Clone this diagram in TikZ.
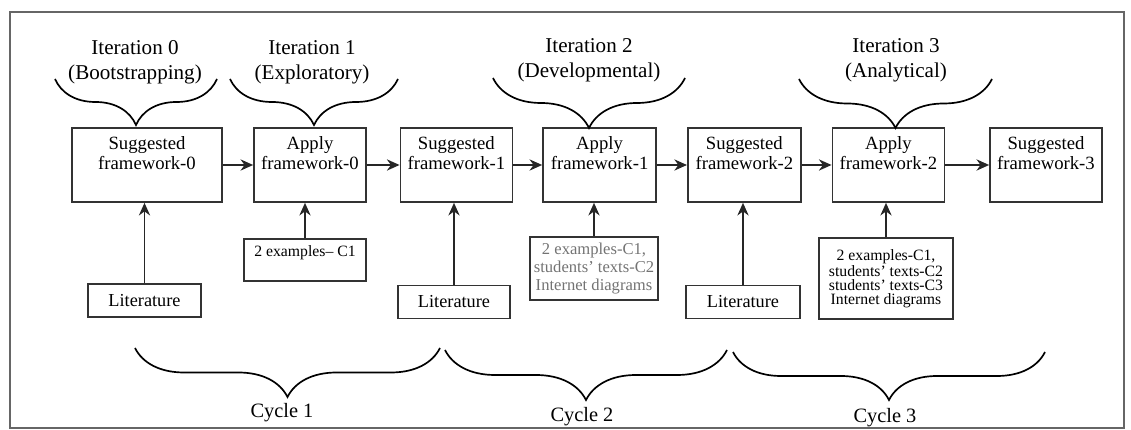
\documentclass[tikz,border=0pt]{standalone}
\usepackage{fontspec}
\setmainfont{Liberation Serif}
\usetikzlibrary{positioning, arrows.meta, decorations.pathreplacing}

\tikzset{
	stage/.style={draw=black!80, line width=1.2pt, rectangle, align=center, text width=2.6cm, 
	text height=0.45cm, text depth=1.2cm, inner sep=0.1cm, font=\fontsize{13.3}{14.2}\selectfont},
	lit/.style={draw=black!80, line width=1.1pt, rectangle, minimum width=2.83cm, 
	minimum height=0.83cm, inner sep=0.05cm, font=\fontsize{13}{14}\selectfont},
	data/.style={draw=black!80, line width=1.1pt, rectangle, align=center, inner sep=0.05cm, 
	font=\fontsize{11.2}{10}\selectfont},
	flow/.style={-{Stealth[length=9pt, width=8pt]}, line width=1.2pt, black!85},
	curly/.style={decorate, decoration={brace, mirror, amplitude=#1}, line width=1.2pt},
	heading/.style={align=center, font=\fontsize{15}{17.7}\selectfont},
	cycle/.style={font=\fontsize{14.5}{16}\selectfont}
}

\begin{document}
\begin{tikzpicture}
		\useasboundingbox (0,0) rectangle (28.275,-10.75);
		\draw[black!60, line width=1.2pt] (0.25,-0.3) rectangle (28.1,-10.7);
		
		%Framework row
		\node (sf0) at (3.675,-4.125) [stage, text width=3.55cm]{Suggested\\framework-0};
		\node (af0) at (7.75,-4.125) [stage]{Apply\\framework-0};
		\node (sf1) at (11.41,-4.125) [stage]{Suggested\\framework-1};
		\node (af1) at (14.99,-4.125) [stage, text width=2.63cm]{Apply\\framework-1};
		\node (sf2) at (18.61,-4.125) [stage, text width=2.63cm]{Suggested\\framework-2};
		\node (af2) at (22.21,-4.125) [stage]{Apply\\framework-2};
		\node (sf3) at (26.15,-4.125) [stage]{Suggested\\framework-3};
		
		%Inputs below the row
		\node (lit1) at (3.6125,-7.5125) [lit]{Literature};
		\node (lit2) at (11.35,-7.55) [lit, minimum width=2.8cm]{Literature};
		\node (lit3) at (18.575,-7.55) [lit, minimum width=2.85cm]{Literature};
		\node (ex1) at (7.625,-6.5) [data, minimum width=3.05cm, text height=0.4cm, 
		text depth=0.55cm]{2 examples-- C1};
		\node (ex2) at (14.85,-6.7125) [data, minimum width=3.2cm, minimum height=1.575cm, 
		text=black!55, font=\fontsize{11.8}{12.7}\selectfont]{2 examples-C1,\\students' texts-C2\\Internet diagrams};
		\node (ex3) at (22.15,-6.9625) [data, minimum width=3.35cm, 
		minimum height=2.025cm]{2 examples-C1,\\students' texts-C2\\students' texts-C3\\Internet diagrams};
		
		%Iterations
		\node (it0) at (3.375,-1.55) [heading]{Iteration 0\\(Bootstrapping)};
		\node (it1) at (7.8,-1.55) [heading]{Iteration 1\\(Exploratory)};
		\node (it2) at (14.725,-1.5) [heading]{Iteration 2\\(Developmental)};
		\node (it3) at (22.4,-1.5) [heading]{Iteration 3\\(Analytical)};
		\draw[curly=1.15cm] (1.375,-1.975) -- (5.425,-1.975);
		\draw[curly=1.15cm] (5.75,-1.975) -- (9.95,-1.975);
		\draw[curly=1.25cm] (12.325,-1.95) -- (17.125,-1.95);
		\draw[curly=1.225cm] (19.975,-1.975) -- (24.8,-1.975);
		
		%Cycles
		\draw[curly=1.225cm] (3.375,-8.7) -- (11.0,-8.7);
		\draw[curly=1.25cm] (11.125,-8.75) -- (18.175,-8.75);
		\draw[curly=1.2cm] (18.325,-8.8) -- (26.125,-8.8);
		\node (cy1) at (7.05,-10.325) [cycle]{Cycle 1};
		\node (cy2) at (14.55,-10.425) [cycle]{Cycle 2};
		\node (cy3) at (22.125,-10.45) [cycle]{Cycle 3};
		
		%Links among blocks
		\draw[flow] (sf0.east) -- (af0.west);
		\draw[flow] (af0.east) -- (sf1.west);
		\draw[flow] (sf1.east) -- (af1.west);
		\draw[flow] (af1.east) -- (sf2.west);
		\draw[flow] (sf2.east) -- (af2.west);
		\draw[flow, line width=2pt] (af2.east) -- (sf3.west);
		\draw[flow] (lit1.north) -- (lit1.north |- sf0.south);
		\draw[flow] (ex1.north) -- (ex1.north |- af0.south);
		\draw[flow] (lit2.north) -- (lit2.north |- sf1.south);
		\draw[flow] (ex2.north) -- (ex2.north |- af1.south);
		\draw[flow] (lit3.north) -- (lit3.north |- sf2.south);
		\draw[flow] (ex3.north) -- (ex3.north |- af2.south);
		
\end{tikzpicture}
\end{document}
